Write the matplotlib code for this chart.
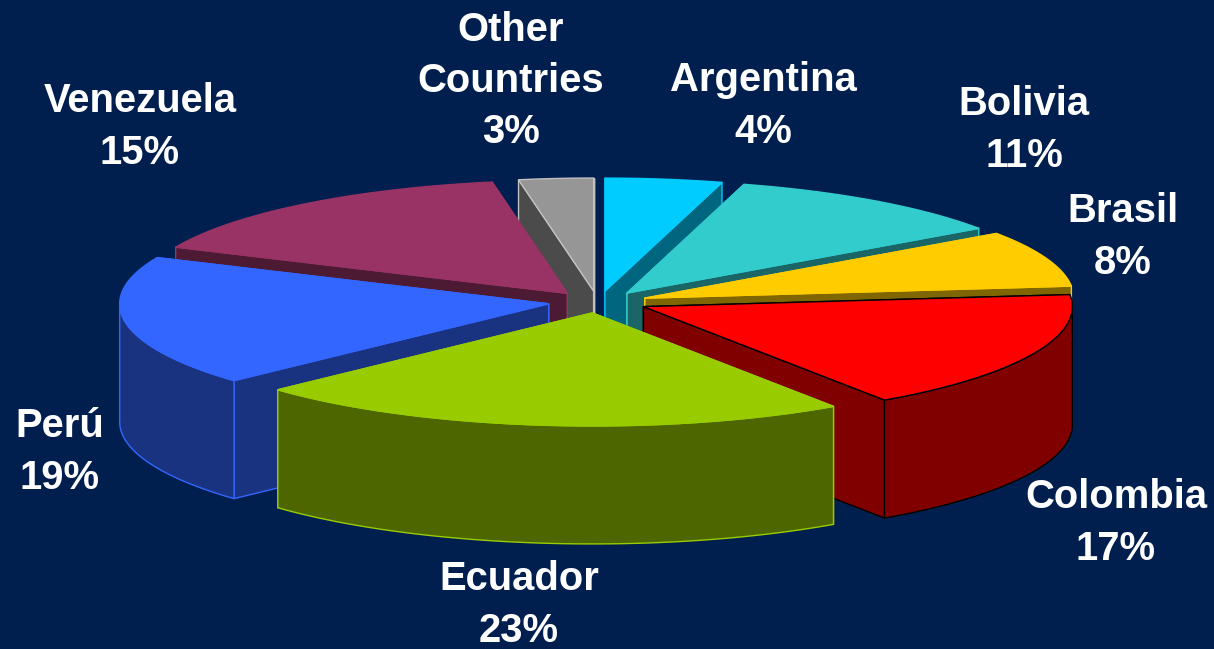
'''
exploded 3D style pie of countries share, drawn with polygons
'''
import numpy as np
import matplotlib
matplotlib.use('Agg')
import matplotlib.pyplot as plt
from matplotlib.patches import Polygon

# data
countries = ['Argentina', 'Bolivia', 'Brasil', 'Colombia', 'Ecuador', 'Perú', 'Venezuela', 'Other\nCountries']
shares = [4.4, 10.9, 8.0, 17.2, 22.6, 18.6, 15.5, 2.8]
labels = ['4%', '11%', '8%', '17%', '23%', '19%', '15%', '3%']

top_colors = ['#00CCFF', '#33CCCC', '#FFCC00', '#FF0000', '#99CC00', '#3366FF', '#993366', '#969696']
side_colors = ['#006680', '#1A6666', '#806600', '#800000', '#4D6600', '#1A3380', '#4D1A33', '#4B4B4B']
edge_colors = ['#00CCFF', '#33CCCC', '#FFCC00', '#000000', '#99CC00', '#3366FF', '#993366', '#C0C0C0']

# label centres, in figure pixels
label_pos = [(763, 106), (1024, 130), (1123, 237), (1116, 523), (519, 605), (60, 452), (140, 127), (511, 81)]

# painter's order, back slices first
draw_order = [7, 0, 6, 1, 2, 5, 3, 4]

BG = '#001F4E'
CX, CY = 598, 302
RX, RY = 429, 113
EX, EY = 50, 11
DEPTH = 118

fig = plt.figure(figsize=(12.14, 6.49), dpi=100, facecolor=BG)
ax = fig.add_axes([0, 0, 1, 1])
ax.set_xlim(0, 1214)
ax.set_ylim(649, 0)
ax.axis('off')

edges = np.cumsum([0] + shares) / sum(shares) * 2 * np.pi


def slice_geometry(i):
    # clockwise from 12 o'clock, y axis pointing down
    a0, a1 = edges[i], edges[i + 1]
    mid = (a0 + a1) / 2
    tx = CX + EX * np.sin(mid)
    ty = CY - EY * np.cos(mid)
    ang = np.linspace(a0, a1, 80)
    arc = np.column_stack([tx + RX * np.sin(ang), ty - RY * np.cos(ang)])
    return np.array([tx, ty]), ang, arc


def wall(points, color, edge, z):
    ax.add_patch(Polygon(points, closed=True, facecolor=color, edgecolor=edge, lw=1, zorder=z, joinstyle='round'))


z = 1
for i in draw_order:
    tip, ang, arc = slice_geometry(i)
    down = np.array([0, DEPTH])
    # radial walls, the one further back goes first
    ends = sorted([arc[0], arc[-1]], key=lambda p: p[1])
    wall([tip, ends[0], ends[0] + down, tip + down], side_colors[i], edge_colors[i], z)
    wall([tip, ends[1], ends[1] + down, tip + down], side_colors[i], edge_colors[i], z + 0.1)
    # only the front part of the rim can be seen
    vis = arc[np.cos(ang) <= 0]
    if len(vis) > 1:
        wall(np.vstack([vis, (vis + down)[::-1]]), side_colors[i], edge_colors[i], z + 0.2)
    wall(np.vstack([tip, arc]), top_colors[i], edge_colors[i], z + 0.3)
    z += 1

for name, lab, (x, y) in zip(countries, labels, label_pos):
    ax.text(x, y, f'{name}\n{lab}', ha='center', va='center', color='white',
            fontsize=28.8, fontweight='bold', family='Liberation Sans', linespacing=1.44, zorder=20)

fig.savefig('out.png', dpi=100, facecolor=BG)
